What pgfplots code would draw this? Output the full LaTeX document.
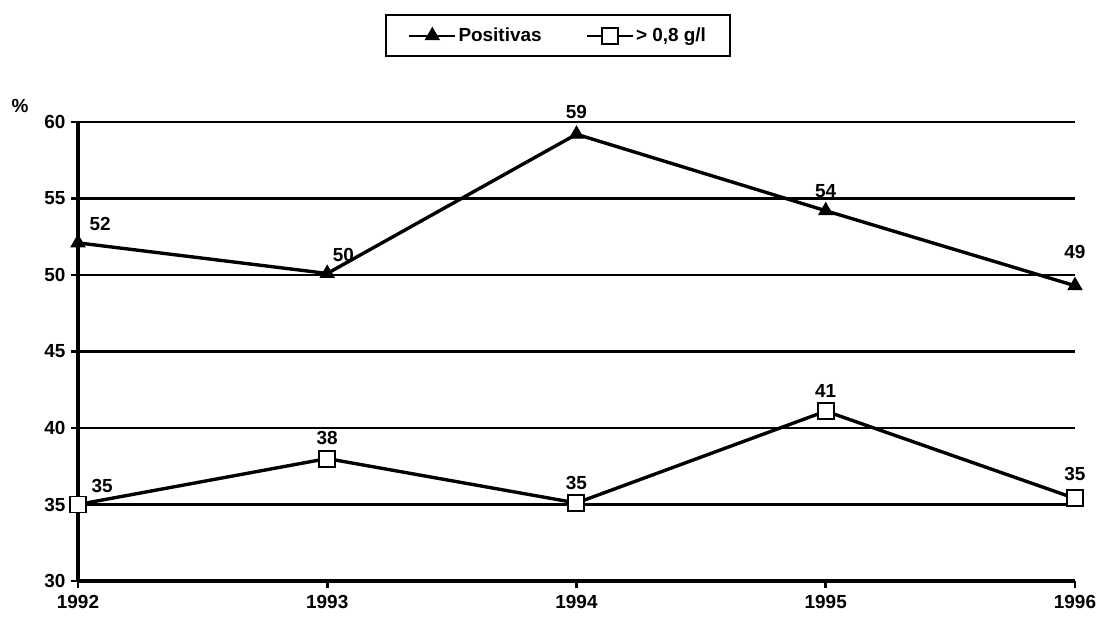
\documentclass[border=0pt]{standalone}
\usepackage{fontspec}
\setmainfont{Liberation Sans}
\usepackage{pgfplots}
\pgfplotsset{compat=1.18}
\begin{document}
\begin{tikzpicture}
\path[use as bounding box] (-78bp,-42bp) rectangle (1028bp,581bp);
\begin{axis}[
  scale only axis,
  width=997bp, height=459bp,
  at={(0,0)}, anchor=south west,
  xmin=1992, xmax=1996, ymin=30, ymax=60,
  xtick={1992,1993,1994,1995,1996},
  ytick={30,35,40,45,50,55,60},
  xticklabel style={/pgf/number format/1000 sep={}, yshift=-4bp},
  yticklabel style={xshift=-2bp},
  /pgf/number format/assume math mode=true,
  tick label style={font=\fontsize{19}{19}\selectfont\bfseries},
  axis x line*=bottom, axis y line*=left,
  axis line style={line width=3.2pt,-},
  tick align=outside, major tick length=7bp,
  tick style={line width=2.6pt,black},
  ymajorgrids, grid style={line width=3pt,black},
  clip=false,
  legend columns=2,
  legend style={at={(0.4815,1.188)}, anchor=center, draw=black, line width=2.4pt,
    font=\fontsize{19}{19}\selectfont\bfseries, inner xsep=22bp, inner ysep=11bp,
    /tikz/every even column/.append style={column sep=42bp}},
  legend image post style={line width=2.4pt},
  legend image code/.code={\draw[#1] (0bp,0bp) -- (46bp,0bp); \draw[#1,only marks] plot coordinates {(23bp,0bp)};},
]
\addplot[black, line width=3.4pt, mark=triangle*, mark size=8bp, mark options={fill=black, line width=1pt}]
  coordinates {(1992,52.1) (1993,50.1) (1994,59.2) (1995,54.2) (1996,49.3)};
\addlegendentry{Positivas}
\addplot[black, line width=3.4pt, mark=square*, mark size=8bp, mark options={fill=white, line width=2pt}]
  coordinates {(1992,35) (1993,38) (1994,35.1) (1995,41.1) (1996,35.4)};
\addlegendentry{> 0,8 g/l}
\begin{scope}[every node/.style={font=\fontsize{19}{19}\selectfont\bfseries}]
\node[anchor=south west] at (axis cs:1992,52.1) [xshift=8bp,yshift=9bp] {52};
\node[anchor=south west] at (axis cs:1993,50.1) [xshift=2bp,yshift=8bp] {50};
\node[anchor=south] at (axis cs:1994,59.2) [yshift=12bp] {59};
\node[anchor=south] at (axis cs:1995,54.2) [yshift=10bp] {54};
\node[anchor=south] at (axis cs:1996,49.3) [yshift=24bp] {49};
\node[anchor=south west] at (axis cs:1992,35) [xshift=10bp,yshift=8bp] {35};
\node[anchor=south] at (axis cs:1993,38) [yshift=10bp] {38};
\node[anchor=south] at (axis cs:1994,35.1) [yshift=10bp] {35};
\node[anchor=south] at (axis cs:1995,41.1) [yshift=10bp] {41};
\node[anchor=south] at (axis cs:1996,35.4) [yshift=14bp] {35};
\node at (axis cs:1992,60) [xshift=-58bp,yshift=16bp] {\%};
\end{scope}
\end{axis}
\end{tikzpicture}
\end{document}
